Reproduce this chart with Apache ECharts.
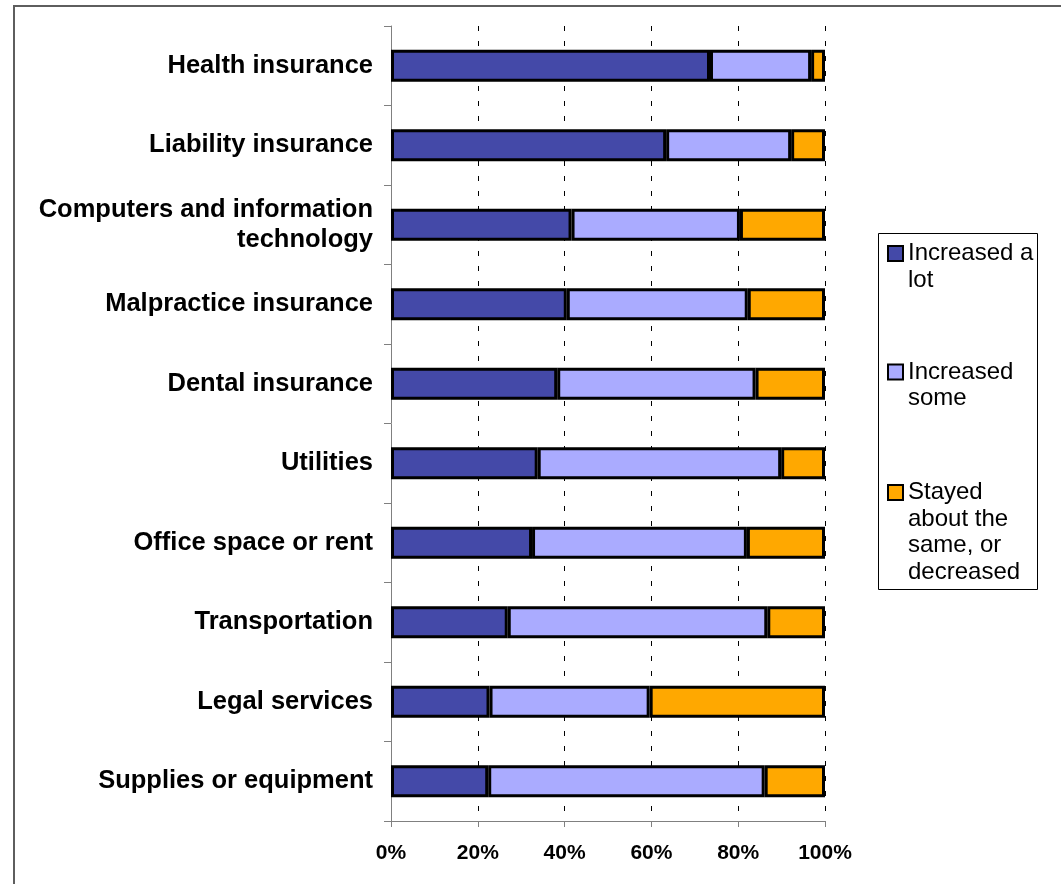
<!DOCTYPE html>
<html>
<head>
<meta charset="utf-8">
<script src="https://cdn.jsdelivr.net/npm/echarts@6/dist/echarts.min.js"></script>
<style>
  html, body { margin: 0; padding: 0; background: #fff; }
  #chart { width: 1061px; height: 884px; }
</style>
</head>
<body>
<div id="chart"></div>
<script>
// Cost categories, top to bottom
const categories = [
  'Health insurance',
  'Liability insurance',
  'Computers and information\ntechnology',
  'Malpractice insurance',
  'Dental insurance',
  'Utilities',
  'Office space or rent',
  'Transportation',
  'Legal services',
  'Supplies or equipment'
];

// Share of respondents (%)
const increasedALot  = [73.5, 63.4, 41.6, 40.5, 38.3, 33.8, 32.5, 26.9, 22.7, 22.4];
const increasedSome  = [23.3, 28.8, 38.8, 41.7, 45.7, 56.1, 49.5, 59.8, 36.9, 63.7];
const stayedOrDown   = [ 3.2,  7.8, 19.6, 17.8, 16.0, 10.1, 18.0, 13.3, 40.4, 13.9];

const seriesNames = ['Increased a lot', 'Increased some', 'Stayed about the same, or decreased'];
const legendLines = [['Increased a', 'lot'], ['Increased', 'some'], ['Stayed', 'about the', 'same, or', 'decreased']];
const seriesColors = ['#4449a8', '#aaabff', '#ffa800'];

const FONT = '"Liberation Sans", Arial, sans-serif';
const LEGEND_LH = 26.5;
const legendIconTops = [246, 364.5, 485];

const chart = echarts.init(document.getElementById('chart'));

// One legend block per series so each icon lines up with its first text line
const legends = seriesNames.map((name, i) => {
  const lines = legendLines[i];
  const pad = new Array(lines.length - 1).fill('');
  const text = pad.concat(lines).join('\n');
  const totalLines = 2 * lines.length - 1;
  return {
    orient: 'vertical',
    left: 887,
    top: legendIconTops[i] - (totalLines * LEGEND_LH) / 2 + 7.5,
    padding: 0,
    itemWidth: 15,
    itemHeight: 15,
    icon: 'rect',
    selectedMode: false,
    data: [name],
    formatter: () => text,
    itemStyle: { borderColor: '#000', borderWidth: 2 },
    textStyle: { fontFamily: FONT, fontSize: 24, color: '#000', lineHeight: LEGEND_LH }
  };
});

const dataSets = [increasedALot, increasedSome, stayedOrDown];

chart.setOption({
  animation: false,
  backgroundColor: '#fff',
  grid: { left: 391, right: 236, top: 26, bottom: 63, containLabel: false },
  legend: legends,
  graphic: [
    { type: 'rect', shape: { x: 14, y: 6, width: 1100, height: 1000 },
      style: { fill: 'none', stroke: '#5e5e5e', lineWidth: 2 }, silent: true },
    { type: 'rect', shape: { x: 878.5, y: 233.5, width: 159, height: 356 },
      style: { fill: 'none', stroke: '#000', lineWidth: 1 }, silent: true, z: 10 }
  ],
  xAxis: {
    type: 'value',
    min: 0,
    max: 100,
    interval: 20,
    axisLine: { show: true, lineStyle: { color: '#808080', width: 1 } },
    axisTick: { show: true, length: 6, lineStyle: { color: '#808080' } },
    axisLabel: {
      formatter: '{value}%',
      fontFamily: FONT, fontSize: 21, fontWeight: 'bold', color: '#000', margin: 22
    },
    splitLine: { show: true, lineStyle: { color: '#000', width: 1, type: [5, 10] } }
  },
  yAxis: {
    type: 'category',
    inverse: true,
    data: categories,
    axisLine: { show: true, lineStyle: { color: '#808080', width: 1 } },
    axisTick: { show: true, length: 7, lineStyle: { color: '#808080' } },
    axisLabel: {
      fontFamily: FONT, fontSize: 25.5, fontWeight: 'bold', color: '#000',
      lineHeight: 30, margin: 18, align: 'right'
    },
    splitLine: { show: false }
  },
  series: seriesNames.map((name, i) => ({
    name,
    type: 'bar',
    stack: 'total',
    data: dataSets[i],
    barCategoryGap: '60%',
    itemStyle: { color: seriesColors[i], borderColor: '#000', borderWidth: 3 },
    emphasis: { disabled: true }
  }))
});
</script>
</body>
</html>
